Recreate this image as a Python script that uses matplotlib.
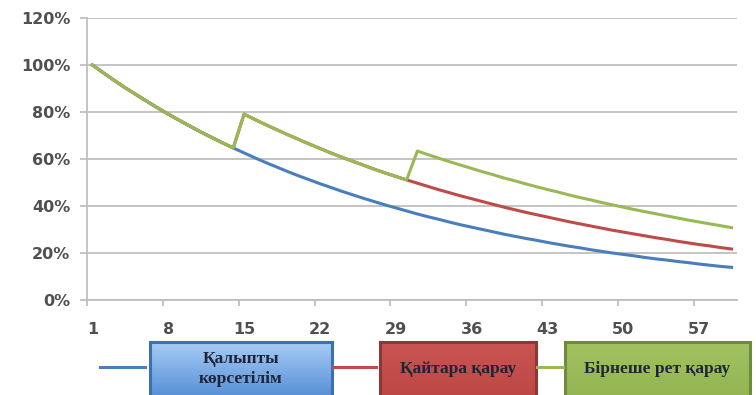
import numpy as np
import matplotlib.pyplot as plt
from matplotlib.colors import LinearSegmentedColormap
from matplotlib.lines import Line2D

# retention curves, share remembered per day
days = list(range(1, 61))

normal = [1.000, 0.967, 0.935, 0.904, 0.875, 0.846, 0.818, 0.791, 0.765, 0.740,
          0.715, 0.692, 0.669, 0.647, 0.626, 0.605, 0.585, 0.566, 0.547, 0.529,
          0.512, 0.495, 0.479, 0.463, 0.448, 0.433, 0.419, 0.405, 0.392, 0.379,
          0.366, 0.354, 0.343, 0.331, 0.320, 0.310, 0.300, 0.290, 0.280, 0.271,
          0.262, 0.254, 0.245, 0.237, 0.229, 0.222, 0.214, 0.207, 0.200, 0.194,
          0.188, 0.181, 0.175, 0.170, 0.164, 0.159, 0.153, 0.148, 0.143, 0.139]

review_once = [1.000, 0.967, 0.935, 0.904, 0.875, 0.846, 0.818, 0.791, 0.765, 0.740,
               0.715, 0.692, 0.669, 0.647, 0.791, 0.768, 0.746, 0.725, 0.704, 0.684,
               0.664, 0.645, 0.626, 0.608, 0.591, 0.574, 0.557, 0.541, 0.526, 0.511,
               0.497, 0.483, 0.469, 0.456, 0.443, 0.431, 0.419, 0.407, 0.395, 0.384,
               0.373, 0.363, 0.353, 0.343, 0.333, 0.324, 0.315, 0.306, 0.297, 0.289,
               0.281, 0.273, 0.265, 0.258, 0.250, 0.243, 0.236, 0.230, 0.223, 0.217]

review_many = [1.000, 0.967, 0.935, 0.904, 0.875, 0.846, 0.818, 0.791, 0.765, 0.740,
               0.715, 0.692, 0.669, 0.647, 0.791, 0.768, 0.746, 0.725, 0.704, 0.684,
               0.664, 0.645, 0.626, 0.608, 0.591, 0.574, 0.557, 0.541, 0.526, 0.511,
               0.634, 0.618, 0.603, 0.588, 0.574, 0.560, 0.546, 0.533, 0.519, 0.507,
               0.494, 0.482, 0.470, 0.459, 0.447, 0.436, 0.426, 0.415, 0.405, 0.395,
               0.385, 0.376, 0.367, 0.358, 0.349, 0.340, 0.332, 0.324, 0.316, 0.308]

tick_days = [1, 8, 15, 22, 29, 36, 43, 50, 57]
pct_ticks = [0.0, 0.2, 0.4, 0.6, 0.8, 1.0, 1.2]

names = ['Қалыпты\nкөрсетілім', 'Қайтара қарау', 'Бірнеше рет қарау']
line_colors = ['#4A7EBB', '#BE4B48', '#98B954']

W, H = 756, 395
grid_col = '#BFBFBF'
label_col = '#505050'

fig = plt.figure(figsize=(W / 100, H / 100), dpi=100)
ax = fig.add_axes([87 / W, 1 - 300 / H, 650 / W, 282 / H])

ax.plot(days, normal, color=line_colors[0], lw=2.2, zorder=3)
ax.plot(days, review_once, color=line_colors[1], lw=2.2, zorder=4)
ax.plot(days, review_many, color=line_colors[2], lw=2.2, zorder=5)

ax.set_xlim(0.5, 60.5)
ax.set_ylim(0, 1.2)

ax.set_yticks(pct_ticks)
ax.set_yticklabels([f'{round(v * 100)}%' for v in pct_ticks])
ax.yaxis.grid(True, color=grid_col, lw=1.3)
ax.set_axisbelow(True)

for side in ['top', 'right']:
    ax.spines[side].set_visible(False)
for side in ['left', 'bottom']:
    ax.spines[side].set_color(grid_col)
    ax.spines[side].set_linewidth(1.3)

ax.set_xticks(tick_days)
ax.set_xticks([d - 0.5 for d in tick_days], minor=True)
ax.tick_params(axis='x', which='major', length=0, pad=16)
ax.tick_params(axis='x', which='minor', length=4, width=1.3, color=grid_col)
ax.tick_params(axis='y', length=5, width=1.3, color=grid_col, pad=7)
for lbl in ax.get_xticklabels() + ax.get_yticklabels():
    lbl.set_fontweight('bold')
    lbl.set_fontsize(11.5)
    lbl.set_color(label_col)

# legend: a short line followed by a coloured box with the name
seg_x = [(100, 145), (333, 376), (537, 563)]
box_x = [(150, 332), (380, 536), (565, 750)]
box_top = 342
ys = 1 - 367 / H
for (x0, x1), c in zip(seg_x, line_colors):
    fig.add_artist(Line2D([x0 / W, x1 / W], [ys, ys], color=c, lw=2.2,
                          transform=fig.transFigure))

fills = [('#A6CBF5', '#3D7CCC'), ('#C95552', '#B8423F'), ('#A2C262', '#8FB04C')]
edges = ['#3F70AE', '#8C3836', '#6E8B3D']
gradient = np.linspace(0, 1, 64).reshape(-1, 1)
for (x0, x1), (top_c, bot_c), ec, name in zip(box_x, fills, edges, names):
    bx = fig.add_axes([x0 / W, -0.05, (x1 - x0) / W, (H - box_top) / H + 0.05])
    cmap = LinearSegmentedColormap.from_list('box', [top_c, bot_c])
    bx.imshow(gradient, cmap=cmap, aspect='auto', extent=[0, 1, 0, 1])
    bx.set_xticks([])
    bx.set_yticks([])
    for sp in bx.spines.values():
        sp.set_color(ec)
        sp.set_linewidth(2.2)
    fig.text((x0 + x1) / 2 / W, 1 - 369 / H, name, ha='center', va='center',
             fontsize=12.5, fontweight='bold', color='#1F2438', linespacing=1.4,
             family=['Liberation Serif', 'DejaVu Serif'])

fig.savefig('out.png', dpi=100)
